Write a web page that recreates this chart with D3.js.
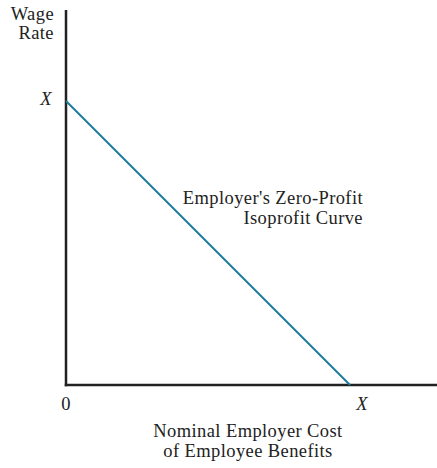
<!DOCTYPE html>
<html>
<head>
<meta charset="utf-8">
<script src="https://cdn.jsdelivr.net/npm/d3@7"></script>
<style>
  body { margin: 0; background: #fff; }
  text { font-family: "Liberation Serif", "DejaVu Serif", serif; fill: #222; letter-spacing: 0.4px; }
</style>
</head>
<body>
<div id="chart"></div>
<script>
// data
var curveX = [0, 1];
var curveY = [1, 0];
var xTicks = [0, 1];
var xTickLabels = ["0", "X"];
var yTicks = [1];
var yTickLabels = ["X"];
var xTitle = ["Nominal Employer Cost", "of Employee Benefits"];
var yTitle = ["Wage", "Rate"];
var curveLabel = ["Employer's Zero-Profit", "Isoprofit Curve"];

var width = 437, height = 468;
var margin = {top: 10, right: 0, bottom: 83, left: 66};
var fs = "18.5px";

var svg = d3.select("#chart").append("svg")
    .attr("width", width)
    .attr("height", height);

var x = d3.scaleLinear().domain([0, 1.31]).range([margin.left, margin.left + 284 * 1.31]);
var y = d3.scaleLinear().domain([0, 1.32]).range([height - margin.bottom, height - margin.bottom - 284 * 1.32]);

// axes
svg.append("line")
    .attr("x1", x(0)).attr("x2", x(0))
    .attr("y1", y(0) + 1.25).attr("y2", y(1.32))
    .attr("stroke", "#222").attr("stroke-width", 2.5);
svg.append("line")
    .attr("x1", x(0) - 1.25).attr("x2", x(1.31))
    .attr("y1", y(0)).attr("y2", y(0))
    .attr("stroke", "#222").attr("stroke-width", 2.5);

// curve
var pts = curveX.map(function(d, i) { return [d, curveY[i]]; });
svg.append("path")
    .datum(pts)
    .attr("d", d3.line().x(function(d) { return x(d[0]); }).y(function(d) { return y(d[1]); }))
    .attr("fill", "none")
    .attr("stroke", "#1d7b9b")
    .attr("stroke-width", 2);

// tick labels
svg.selectAll(".xt").data(xTicks).enter().append("text")
    .attr("x", function(d) { return x(d) + (d === 1 ? 12 : 0); })
    .attr("y", y(0) + 25)
    .attr("text-anchor", "middle")
    .style("font-size", fs)
    .style("font-style", function(d, i) { return xTickLabels[i] === "X" ? "italic" : "normal"; })
    .text(function(d, i) { return xTickLabels[i]; });

svg.selectAll(".yt").data(yTicks).enter().append("text")
    .attr("x", x(0) - 14)
    .attr("y", function(d) { return y(d) + 4; })
    .attr("text-anchor", "end")
    .style("font-size", fs)
    .style("font-style", "italic")
    .text(function(d, i) { return yTickLabels[i]; });

// axis titles
svg.selectAll(".xtitle").data(xTitle).enter().append("text")
    .attr("x", 248)
    .attr("y", function(d, i) { return 437 + i * 20; })
    .attr("text-anchor", "middle")
    .style("font-size", fs)
    .text(function(d) { return d; });

svg.selectAll(".ytitle").data(yTitle).enter().append("text")
    .attr("x", 54)
    .attr("y", function(d, i) { return 20 + i * 19; })
    .attr("text-anchor", "end")
    .style("font-size", fs)
    .text(function(d) { return d; });

// curve label
svg.selectAll(".clabel").data(curveLabel).enter().append("text")
    .attr("x", 363)
    .attr("y", function(d, i) { return 204 + i * 20; })
    .attr("text-anchor", "end")
    .style("font-size", fs)
    .text(function(d) { return d; });
</script>
</body>
</html>
